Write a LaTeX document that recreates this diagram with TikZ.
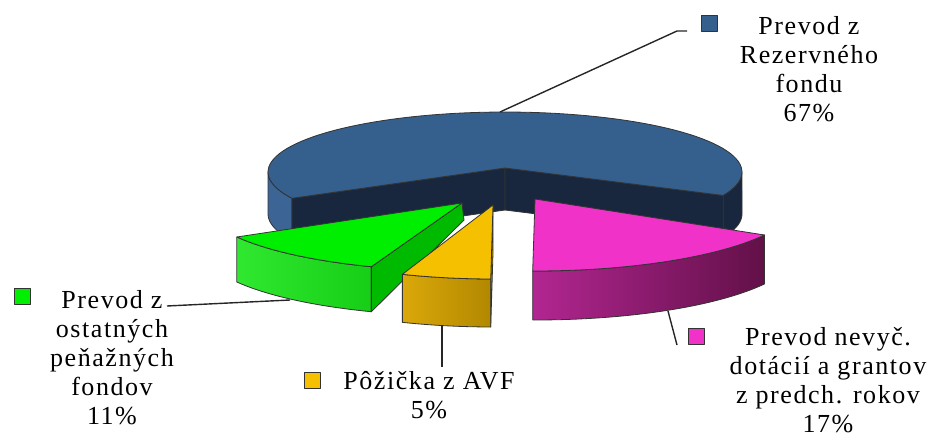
\documentclass[tikz,border=0pt]{standalone}
\usepackage{fontspec}
\setmainfont{Liberation Serif}[LetterSpace=6]
\usetikzlibrary{calc}
\definecolor{rezTop}{RGB}{53,95,141}
\definecolor{rezSide}{RGB}{60,101,150}
\definecolor{rezDark}{RGB}{24,39,62}
\definecolor{ostTop}{RGB}{0,238,0}
\definecolor{ostWallL}{RGB}{48,232,48}
\definecolor{ostWallR}{RGB}{22,206,22}
\definecolor{ostFace}{RGB}{0,186,0}
\definecolor{pozTop}{RGB}{245,192,0}
\definecolor{pozWallL}{RGB}{218,168,10}
\definecolor{pozWallR}{RGB}{178,136,0}
\definecolor{nevTop}{RGB}{241,50,200}
\definecolor{nevWallL}{RGB}{178,38,145}
\definecolor{nevWallR}{RGB}{98,16,72}
\begin{document}
\begin{tikzpicture}[x=.5pt,y=-.5pt,line join=round,
  font=\fontsize{13}{14.5}\selectfont,
  edge/.style={draw=black!80,line width=.4pt},
  key/.style={draw=black!80,line width=.5pt,minimum size=8pt,inner sep=0pt},
  lbl/.style={align=center,anchor=base,inner sep=0pt},
  lead/.style={draw=black!85,line width=.7pt}]
\useasboundingbox (0,0) rectangle (934,434);
% Rezervny fond 67%
\def\cx{505} \def\cy{172} \def\rx{237} \def\ry{60} \def\hgt{42}
\coordinate (rezC) at (505,168);
\coordinate (rezL) at ({\cx+\rx*cos(206)},{\cy-\ry*sin(206)});
\coordinate (rezR) at ({\cx+\rx*cos(-23)},{\cy-\ry*sin(-23)});
\path[edge,fill=rezDark] plot[domain=-23:0,samples=12] ({\cx+\rx*cos(\x)},{\cy-\ry*sin(\x)})
  -- plot[domain=0:-23,samples=12] ({\cx+\rx*cos(\x)},{\cy+\hgt-\ry*sin(\x)}) -- cycle;
\path[edge,fill=rezSide] plot[domain=180:206,samples=12] ({\cx+\rx*cos(\x)},{\cy-\ry*sin(\x)})
  -- plot[domain=206:180,samples=12] ({\cx+\rx*cos(\x)},{\cy+\hgt-\ry*sin(\x)}) -- cycle;
\path[edge,fill=rezDark] (rezL) -- (rezC) -- ++(0,\hgt) -- ($(rezL)+(0,\hgt)$) -- cycle;
\path[edge,fill=rezDark] (rezC) -- (rezR) -- ++(0,\hgt) -- ($(rezC)+(0,\hgt)$) -- cycle;
\path[edge,fill=rezTop] (rezC) -- plot[domain=-23:206,samples=90] ({\cx+\rx*cos(\x)},{\cy-\ry*sin(\x)}) -- cycle;
\coordinate (rezTip) at (500,112);
% ostatne penazne fondy 11%
\def\cx{462} \def\cy{203} \def\rx{260} \def\ry{68} \def\hgt{45}
\coordinate (ostC) at (\cx,\cy);
\coordinate (ostR) at ({\cx+\rx*cos(249.6)},{\cy-\ry*sin(249.6)});
\path[edge,left color=ostWallL,right color=ostWallR] plot[domain=210:249.6,samples=20] ({\cx+\rx*cos(\x)},{\cy-\ry*sin(\x)})
  -- plot[domain=249.6:210,samples=20] ({\cx+\rx*cos(\x)},{\cy+\hgt-\ry*sin(\x)}) -- cycle;
\path[edge,fill=ostFace] (ostC) -- (ostR) -- ++(0,\hgt) -- (464,220) -- cycle;
\path[edge,fill=ostTop] (ostC) -- plot[domain=210:249.6,samples=20] ({\cx+\rx*cos(\x)},{\cy-\ry*sin(\x)}) -- cycle;
\coordinate (ostTip) at (290,300);
% pozicka z AVF 5%
\def\cx{493} \def\cy{205} \def\rx{260} \def\ry{74} \def\hgt{48}
\coordinate (pozC) at (\cx,\cy);
\coordinate (pozR) at ({\cx+\rx*cos(269.5)},{\cy-\ry*sin(269.5)});
\path[edge,left color=pozWallL,right color=pozWallR] plot[domain=249.6:269.5,samples=12] ({\cx+\rx*cos(\x)},{\cy-\ry*sin(\x)})
  -- plot[domain=269.5:249.6,samples=12] ({\cx+\rx*cos(\x)},{\cy+\hgt-\ry*sin(\x)}) -- cycle;
\path[edge,fill=pozWallR] (pozC) -- (pozR) -- ++(0,\hgt) -- ($(pozC)+(0,\hgt)$) -- cycle;
\path[edge,fill=pozTop] (pozC) -- plot[domain=249.6:269.5,samples=12] ({\cx+\rx*cos(\x)},{\cy-\ry*sin(\x)}) -- cycle;
\coordinate (pozTip) at (442,325);
% nevycerpane dotacie 17%
\def\cx{535} \def\cy{199} \def\rx{265} \def\ry{72} \def\hgt{49}
\coordinate (nevC) at (\cx,\cy);
\path[edge,left color=nevWallL,right color=nevWallR] plot[domain=269.5:330,samples=30] ({\cx+\rx*cos(\x)},{\cy-\ry*sin(\x)})
  -- plot[domain=330:269.5,samples=30] ({\cx+\rx*cos(\x)},{\cy+\hgt-\ry*sin(\x)}) -- cycle;
\path[edge,fill=nevTop] (nevC) -- plot[domain=269.5:330,samples=30] ({\cx+\rx*cos(\x)},{\cy-\ry*sin(\x)}) -- cycle;
\coordinate (nevTip) at (668,311);
% popisy (base = posledny riadok)
\node[key,fill=rezTop] (keyRez) at (709,23) {};
\node[lbl] (lblRez) at (809,121) {Prevod z\\Rezervného\\fondu\\67\%};
\node[key,fill=ostTop] (keyOst) at (22,296) {};
\node[lbl] (lblOst) at (112,424) {Prevod z\\ostatných\\peňažných\\fondov\\11\%};
\node[key,fill=pozTop] (keyPoz) at (312,380) {};
\node[lbl] (lblPoz) at (429,418) {Pôžička z AVF\\5\%};
\node[key,fill=nevTop] (keyNev) at (696,336) {};
\node[lbl] (lblNev) at (828,432) {Prevod nevyč.\\dotácií a grantov\\z predch. rokov\\17\%};
\coordinate (rezEnd) at (687,31);
\coordinate (ostEnd) at (167,306);
\coordinate (pozEnd) at (442,367);
\coordinate (nevEnd) at (677,345);
\draw[lead] (rezTip) -- (677,31) -- (rezEnd);
\draw[lead] (ostTip) -- (ostEnd);
\draw[lead] (pozTip) -- (pozEnd);
\draw[lead] (nevTip) -- (nevEnd);
\end{tikzpicture}
\end{document}
